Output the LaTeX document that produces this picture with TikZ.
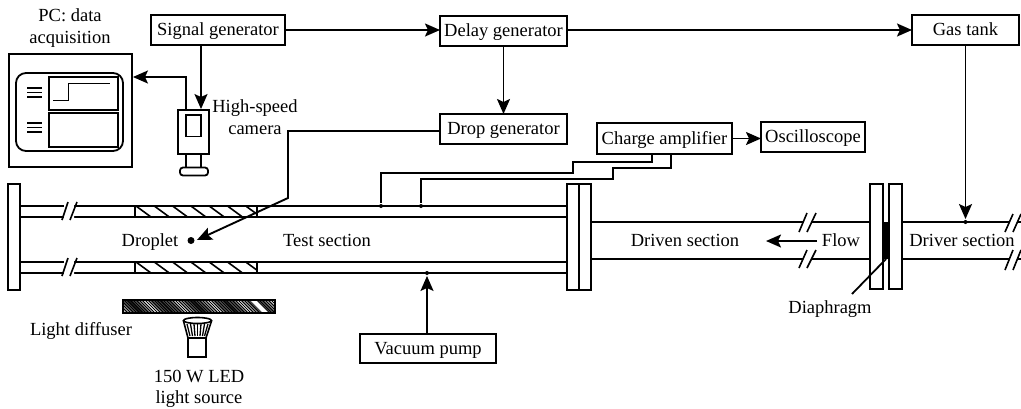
\documentclass[tikz,border=0pt]{standalone}
\usepackage{fontspec}
\setmainfont{Liberation Serif}
\usetikzlibrary{arrows.meta,calc}
\tikzset{
  txt/.style={inner sep=0pt,outer sep=0pt,text height=14.5pt,text depth=3.5pt,font=\fontsize{18.5}{20}\selectfont},
  boxn/.style={txt,draw,fill=white,line width=2pt,outer sep=0pt},
  arr/.style={line width=1.9pt,-{Stealth[length=15pt,width=13pt,inset=3pt]}},
  pipe/.style={line width=1.8pt},
  flange/.style={draw,fill=white,line width=1.8pt},
  joint/.style={circle,fill=black,draw=none,inner sep=0pt,minimum size=4pt},
}
\begin{document}
\begin{tikzpicture}[x=1pt,y=-1pt,line width=1.9pt]
\useasboundingbox (0,0) rectangle (1021,408);
% tubes
\draw[pipe] (20,206) -- (567,206) (20,217) -- (567,217) (20,262) -- (567,262) (20,273) -- (567,273);
\draw[pipe] (591,222) -- (870,222) (591,259) -- (870,259);
\draw[pipe] (902,222) -- (1021,222) (902,259) -- (1021,259);
% breaks
\fill[white] (64,204) rectangle (74,219) (64,260) rectangle (74,275);
\fill[white] (803,220) rectangle (811,224) (803,257) rectangle (811,261);
\fill[white] (1009,220) rectangle (1017,224) (1009,257) rectangle (1017,261);
\foreach \xa/\ya/\xb/\yb in {62/220/68/202, 70/220/77/202, 62/276/68/258, 70/276/77/258,
   799/232/807/213, 807/232/816/213, 799/268/807/250, 807/268/816/250,
   1005/232/1013/214, 1013/232/1021/214, 1005/270/1013/250, 1013/270/1021/250}{
  \draw[line width=1.6pt] (\xa,\ya) -- (\xb,\yb);}
% hatched windows
\foreach \ya/\yb in {206/217,262/273}{
  \begin{scope}
    \clip (135,\ya) rectangle (257,\yb);
    \foreach \i in {0,...,6}{\draw[line width=1.6pt] (136+18.3*\i,\ya) -- (151+18.3*\i,\yb);}
  \end{scope}
  \draw[pipe] (135,\ya) -- (135,\yb) (257,\ya) -- (257,\yb);
}
% flanges
\draw[flange] (8,184) rectangle (20,290);
\draw[flange] (567,184) rectangle (591,290);
\draw[pipe] (579,184) -- (579,290);
\draw[flange] (870,184) rectangle (883,289);
\draw[flange] (889,184) rectangle (902,289);
\fill[black] (882.5,222) rectangle (889.5,259);
% diffuser
\begin{scope}
  \clip (123,300) rectangle (275,313);
  \foreach \i [evaluate=\i as \w using {0.9+0.9*abs(sin(\i*17))}] in {0,...,55}{
    \draw[line width=\w pt,black] (112+3*\i,300) -- (125+3*\i,313);
  }
  \fill[white] (250,300) -- (256,300) -- (269,313) -- (263,313) -- cycle;
\end{scope}
\draw[line width=1.8pt] (123,300) rectangle (275,313);
% LED
\draw[line width=1.6pt,fill=white] (183.5,321) -- (188,338) -- (206,338) -- (211.5,321);
\foreach \x/\X in {187/190,190.5/192.5,194/195,197.5/197.5,201/200,204.5/202.5,208/204.5}{
  \draw[line width=1.3pt] (\x,324) -- (\X,336);}
\draw[line width=1.6pt,fill=white] (197.5,320.5) ellipse (14 and 3);
\draw[line width=1.8pt,fill=white] (188,338) rectangle (206,357);
% PC
\node[draw,line width=1.9pt,minimum width=123pt,minimum height=113pt,inner sep=0pt] (pc) at (70.5,110.5) {};
\draw[line width=1.8pt,rounded corners=10pt] (16,73) rectangle (123,151);
\draw[pipe] (49,77) rectangle (118,110);
\draw[pipe] (49,113) rectangle (118,147);
\draw[pipe] (53,100.5) -- (68.5,100.5) -- (68.5,83.5) -- (110,83.5);
\foreach \y in {88,92.5,97,123,127.5,132}{\draw[pipe] (27,\y) -- (42,\y);}
% camera
\node[draw,line width=1.9pt,minimum width=31pt,minimum height=44pt,inner sep=0pt] (cam) at (193.5,132) {};
\draw[pipe] (186,115) rectangle (201,136.5);
\draw[pipe] (186,154) -- (186,167) (201,154) -- (201,167);
\draw[pipe,rounded corners=3pt] (180,167.5) rectangle (208,175.5);
% boxes
\node[boxn,minimum width=134pt,minimum height=30pt] (sig) at (218,30) {Signal generator};
\node[boxn,minimum width=127pt,minimum height=30pt] (del) at (503.5,30.5) {Delay generator};
\node[boxn,minimum width=107pt,minimum height=30pt] (gas) at (965.5,30) {Gas tank};
\node[boxn,minimum width=127pt,minimum height=30pt] (dro) at (503.5,129) {Drop generator};
\node[boxn,minimum width=135pt,minimum height=30.5pt] (cha) at (664.5,138.5) {Charge amplifier};
\node[boxn,minimum width=104pt,minimum height=30pt] (osc) at (813,137) {Oscilloscope};
\node[boxn,minimum width=136pt,minimum height=29pt] (vac) at (428,348.5) {Vacuum pump};
% joints
\node[joint] (j1) at (381,206) {};
\node[joint] (j2) at (421,206) {};
\node[joint] (j3) at (427,273) {};
\node[joint] (j4) at (965.5,222) {};
\node[circle,fill=black,inner sep=0pt,minimum size=7pt] (dp) at (191,240.5) {};
\coordinate (sigcam) at (201,45);
\coordinate (campc) at (186,110);
\coordinate (bendA) at (288,198);
% connectors
\draw[arr] (sig.east) -- (del.west |- sig.east);
\draw[arr] (del.east |- gas.west) -- (gas.west);
\draw[arr] (sigcam) -- (sigcam |- cam.north);
\draw[arr] (campc) -- (186,77) -- (pc.east |- 0,77);
\draw[arr] (del.south) -- (dro.north);
\draw[arr] (gas.south) -- (j4);
\draw[arr] (dro.west |- 0,131) -- (288,131) -- (bendA) -- ($(dp.east)+(1.5,-0.5)$);
\draw[arr] (cha.east) -- (osc.west |- cha.east);
\draw[arr] (vac.north -| j3) -- (j3);
\draw[pipe] (652,154) -- (652,162) -- (573,162) -- (573,173) -- (381,173) -- (j1);
\draw[pipe] (671,154) -- (671,168) -- (613,168) -- (613,179) -- (421,179) -- (j2);
% flow
\node[txt] (flow) at (841,241) {Flow};
\coordinate (flowend) at (766,241);
\draw[arr] (817,241) -- (flowend);
% diaphragm
\node[txt] (dia) at (830,308) {Diaphragm};
\coordinate (diatop) at (886,259);
\draw[pipe] (852,294) -- (diatop);
% labels
\node[txt] (l1) at (70,16) {PC: data};
\node[txt] (l2) at (70,38) {acquisition};
\node[txt] (l3) at (255,107) {High-speed};
\node[txt] (l4) at (255,129) {camera};
\node[txt] (l5) at (150,241) {Droplet};
\node[txt] (l6) at (327,241) {Test section};
\node[txt] (l7) at (685,241) {Driven section};
\node[txt] (l8) at (962,241) {Driver section};
\node[txt] (l9) at (81,330) {Light diffuser};
\node[txt] (l10) at (199,377) {150 W LED};
\node[txt] (l11) at (199,398) {light source};
\end{tikzpicture}
\end{document}
